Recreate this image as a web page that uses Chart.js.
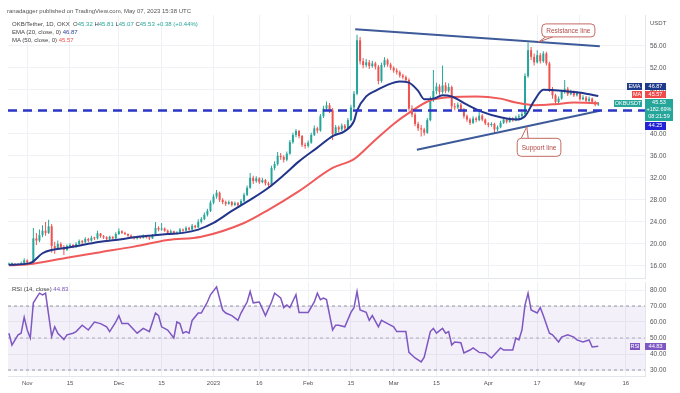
<!DOCTYPE html>
<html>
<head>
<meta charset="utf-8">
<script src="https://cdn.jsdelivr.net/npm/chart.js@4.4.0/dist/chart.umd.min.js"></script>
<style>
  body { margin: 0; background: #fff; }
  #wrap { position: relative; width: 680px; height: 393px; overflow: hidden; font-family: "Liberation Sans", Arial, sans-serif; }
  #main { position: absolute; left: 0; top: 0; }
  #rsi { position: absolute; left: 0; top: 280px; }
  .t { position: absolute; white-space: nowrap; line-height: 1; }
  .tag { position: absolute; color: #fff; font-size: 5.5px; line-height: 1; display: flex; align-items: center; justify-content: center; }
</style>
</head>
<body>
<div id="wrap">
  <canvas id="main" width="680" height="280"></canvas>
  <canvas id="rsi" width="680" height="113"></canvas>

  <div class="t" style="left:7px;top:8px;font-size:6px;color:#555">ranadagger published on TradingView.com, May 07, 2023 15:38 UTC</div>
  <div class="t" style="left:12px;top:21px;font-size:6px;color:#444">OKB/Tether, 1D, OKX&nbsp; O<span style="color:#26a69a">45.32</span> H<span style="color:#26a69a">45.81</span> L<span style="color:#26a69a">45.07</span> C<span style="color:#26a69a">45.53</span> <span style="color:#26a69a">+0.38 (+0.44%)</span></div>
  <div class="t" style="left:12px;top:29px;font-size:6px;color:#444">EMA (20, close, 0) <span style="color:#2a3f9a">46.87</span></div>
  <div class="t" style="left:12px;top:37px;font-size:6px;color:#444">MA (50, close, 0) <span style="color:#f0504f">45.57</span></div>
  <div class="t" style="left:12px;top:286px;font-size:6px;color:#444">RSI (14, close) <span style="color:#7e57c2">44.83</span></div>
  <div class="t" style="left:650px;top:20px;font-size:6px;color:#555">USDT</div>

  <div class="tag" style="left:627px;top:83px;width:15px;height:7px;background:#1f3a8a">EMA</div>
  <div class="tag" style="left:645px;top:83px;width:21px;height:7px;background:#1f3a8a">46.87</div>
  <div class="tag" style="left:632px;top:91px;width:10px;height:7px;background:#f04b4b">MA</div>
  <div class="tag" style="left:645px;top:91px;width:21px;height:7px;background:#f04b4b">45.57</div>
  <div class="tag" style="left:614px;top:100px;width:28px;height:7px;background:#26a69a">OKBUSDT</div>
  <div class="tag" style="left:645px;top:99px;width:28px;height:22px;background:#26a69a;flex-direction:column;gap:1.5px">
    <span>45.53</span><span>+182.69%</span><span>08:21:59</span>
  </div>
  <div class="tag" style="left:645px;top:122px;width:21px;height:8px;background:#2323d6">44.25</div>
  <div class="tag" style="left:630px;top:343px;width:10px;height:7px;background:#7e57c2">RSI</div>
  <div class="tag" style="left:645px;top:343px;width:21px;height:7px;background:#7e57c2">44.83</div>
</div>

<script>
// daily candles from Oct 26 2022 (day 0) to May 7 2023 (day 193)
const firstOpen = 16.2;
const closes = [
  16.3, 16.4, 16.2, 16.3, 16.5, 17.0, 16.6, 16.5, 21.0, 20.6,
  21.6, 22.4, 22.0, 23.2, 19.6, 19.2, 20.0, 19.4, 18.9, 19.6,
  19.8, 19.5, 20.0, 20.5, 20.3, 20.9, 20.6, 21.1, 21.0, 21.9,
  21.4, 21.2, 20.9, 21.3, 21.0, 21.8, 22.3, 22.0, 21.8, 21.5,
  21.2, 21.0, 21.3, 21.1, 21.5, 21.2, 21.0, 21.6, 22.9, 22.6,
  22.8, 22.4, 22.0, 22.3, 21.9, 22.0, 22.6, 22.4, 22.9, 22.6,
  23.3, 23.0, 24.0, 24.5, 25.3, 26.0, 27.5, 28.6, 29.3, 28.0,
  27.6, 27.3, 27.6, 27.1, 27.4, 27.0, 27.8, 28.9, 30.2, 32.0,
  31.4, 31.9, 31.2, 31.6, 31.0, 30.7, 33.8, 34.5, 36.0, 35.8,
  35.3, 36.4, 38.5, 39.8, 40.5, 39.6, 38.0, 37.8, 38.4, 39.8,
  41.0, 40.6, 43.2, 44.6, 45.2, 44.3, 40.0, 41.2, 40.8, 41.5,
  41.0, 42.5, 44.8, 47.3, 57.0, 53.2, 52.5, 53.0, 52.3, 52.8,
  52.2, 49.6, 52.5, 53.4, 52.6, 52.0, 51.5, 51.2, 50.6, 50.3,
  49.8, 44.6, 43.5, 41.8, 41.0, 40.8, 40.2, 42.5, 46.2, 47.8,
  48.6, 47.6, 48.8, 47.8, 48.5, 45.0, 44.8, 45.3, 44.4, 43.2,
  42.6, 42.0, 42.8, 42.5, 43.3, 42.6, 41.9, 41.6, 41.8, 40.8,
  41.2, 42.0, 42.6, 42.2, 42.8, 42.5, 43.0, 43.2, 43.6, 50.5,
  55.2, 54.0, 53.0, 54.3, 53.2, 54.6, 52.8, 48.0, 47.0, 45.8,
  46.4, 47.6, 48.2, 47.2, 47.6, 47.0, 47.4, 46.3, 46.6, 46.0,
  46.4, 45.8, 45.32, 45.53
];
const highs = [
  16.6, 16.6, 16.5, 16.5, 16.8, 17.4, 17.2, 16.8, 22.9, 22.0,
  22.6, 23.4, 24.0, 24.4, 23.6, 20.4, 20.6, 20.3, 19.8, 19.9,
  20.1, 20.0, 20.3, 20.8, 20.7, 21.2, 21.1, 21.5, 21.3, 22.4,
  22.0, 21.6, 21.4, 21.5, 21.4, 22.1, 22.8, 22.5, 22.2, 21.9,
  21.7, 21.4, 21.5, 21.4, 21.7, 21.6, 21.3, 21.8, 24.0, 23.2,
  23.8, 23.0, 22.6, 22.6, 22.4, 22.3, 22.9, 22.8, 23.2, 23.1,
  23.6, 23.5, 24.5, 24.9, 25.7, 26.4, 27.9, 29.0, 29.8, 29.5,
  28.3, 27.9, 27.9, 27.8, 27.7, 27.6, 28.1, 29.3, 30.6, 32.9,
  32.4, 32.3, 32.1, 32.0, 31.8, 31.3, 34.2, 35.0, 36.7, 36.5,
  36.1, 36.8, 38.9, 40.2, 40.9, 40.7, 39.8, 38.4, 38.8, 40.2,
  41.5, 41.3, 43.6, 45.1, 45.9, 45.6, 44.7, 41.6, 41.5, 41.9,
  41.8, 42.9, 45.3, 47.8, 58.0, 57.6, 53.8, 53.6, 53.4, 53.3,
  53.1, 52.5, 52.9, 53.9, 53.7, 52.9, 52.3, 51.9, 51.5, 50.9,
  50.6, 50.1, 45.2, 43.9, 42.2, 41.6, 41.1, 42.9, 46.8, 51.6,
  49.3, 49.0, 52.4, 49.4, 49.2, 48.8, 45.6, 45.7, 45.6, 44.7,
  43.5, 42.9, 43.2, 43.1, 44.5, 43.6, 42.8, 42.1, 42.1, 42.0,
  41.5, 42.4, 43.0, 42.9, 43.1, 43.0, 43.3, 43.6, 44.0, 51.0,
  56.6, 55.8, 54.6, 55.2, 54.7, 55.0, 54.9, 53.1, 48.5, 47.3,
  46.8, 48.0, 49.8, 48.5, 48.0, 47.9, 47.8, 47.6, 47.0, 46.9,
  46.8, 46.6, 46.0, 45.81
];
const lows = [
  16.1, 16.2, 16.1, 16.1, 16.2, 16.4, 16.4, 16.3, 16.4, 19.8,
  20.3, 21.2, 21.5, 21.8, 18.4, 18.2, 18.9, 19.0, 18.0, 18.7,
  19.3, 19.2, 19.3, 19.8, 20.0, 20.1, 20.3, 20.4, 20.7, 20.8,
  21.1, 20.9, 20.6, 20.7, 20.8, 20.9, 21.6, 21.8, 21.6, 21.3,
  21.0, 20.8, 20.8, 20.9, 21.0, 21.0, 20.7, 20.9, 21.5, 22.3,
  22.4, 22.2, 21.8, 21.9, 21.7, 21.7, 21.9, 22.2, 22.3, 22.4,
  22.5, 22.8, 22.9, 23.7, 24.3, 25.0, 25.8, 27.2, 28.2, 27.6,
  27.2, 26.9, 27.1, 26.8, 26.9, 26.7, 26.9, 27.6, 28.7, 30.0,
  30.9, 31.1, 30.9, 31.0, 30.6, 30.2, 30.5, 33.4, 34.2, 35.3,
  34.8, 35.0, 36.2, 38.2, 39.4, 39.2, 37.6, 37.3, 37.5, 38.2,
  39.6, 40.1, 40.4, 42.9, 44.2, 43.8, 38.9, 39.6, 40.3, 40.5,
  40.6, 40.8, 42.3, 44.5, 47.0, 52.6, 51.9, 52.1, 51.8, 52.0,
  51.7, 49.0, 49.3, 52.1, 52.2, 51.6, 51.1, 50.8, 50.2, 49.9,
  49.4, 44.2, 43.0, 41.4, 40.5, 39.5, 39.7, 40.0, 42.3, 45.8,
  47.2, 47.1, 47.3, 47.4, 47.5, 44.5, 44.3, 44.5, 44.0, 42.8,
  42.2, 41.6, 41.8, 42.1, 42.3, 42.3, 41.6, 41.2, 41.3, 40.2,
  40.5, 41.0, 41.8, 41.9, 42.0, 42.2, 42.3, 42.8, 43.0, 43.4,
  50.2, 53.4, 52.4, 52.8, 52.8, 52.9, 52.4, 47.6, 46.4, 45.3,
  45.5, 46.2, 47.3, 46.9, 47.0, 46.7, 46.8, 46.0, 46.1, 45.7,
  45.8, 45.5, 45.0, 45.07
];

// EMA 20 and MA 50 at these days
const emaDays = [0, 7, 11, 14, 19, 24, 30, 35, 41, 46, 52, 57, 62, 67, 73, 79, 85, 90, 95, 101,
  106, 110, 113, 114, 117, 120, 124, 128, 131, 134, 136, 139, 142, 145, 150, 155, 161, 166, 169, 172,
  175, 180, 185, 189, 193];
const emaValues = [16.2, 16.5, 18.3, 18.9, 19.3, 19.8, 20.4, 20.7, 21.2, 21.5, 21.8, 22.0, 22.6, 23.8, 26.0, 28.0, 30.2, 32.5, 35.0, 37.5,
  39.6, 40.5, 42.3, 44.2, 46.8, 47.8, 48.9, 49.5, 49.3, 47.8, 46.3, 46.4, 47.0, 46.8, 45.3, 44.0, 43.0, 42.6, 43.2, 46.0,
  48.0, 47.9, 47.6, 47.3, 46.87];
const maDays = [0, 8, 19, 30, 41, 52, 63, 77, 85, 95, 106, 113, 119, 126, 131, 138, 145, 153, 161, 166, 172, 179, 185, 193];
const maValues = [16.1, 16.4, 17.5, 18.5, 19.5, 20.7, 21.3, 23.8, 26.2, 29.6, 33.8, 35.4, 38.4, 41.8, 43.8, 46.1, 46.7, 46.8, 46.4, 45.7, 45.2, 45.4, 45.7, 45.57];

// RSI (14)
const rsiDays = [0, 1, 3, 4, 5, 6, 7, 8, 10, 11,
  12, 14, 15, 16, 18, 19, 21, 22, 24, 26,
  28, 30, 32, 33, 35, 36, 37, 39, 41, 42,
  44, 46, 48, 49, 50, 52, 54, 55, 56, 57,
  58, 59, 60, 62, 63, 65, 66, 68, 70, 71,
  73, 75, 76, 78, 79, 80, 82, 84, 86, 87,
  89, 90, 91, 92, 94, 95, 98, 100, 101, 102,
  103, 104, 106, 107, 108, 110, 112, 113, 114, 115,
  117, 118, 119, 121, 122, 124, 126, 127, 130, 131,
  133, 135, 136, 138, 139, 140, 142, 143, 144, 145,
  146, 148, 149, 151, 152, 154, 156, 158, 161, 162,
  165, 166, 167, 168, 169, 170, 171, 173, 174, 175,
  177, 178, 180, 181, 183, 185, 186, 188, 190, 191,
  193];
const rsiValues = [53, 45.6, 52, 53, 63, 55, 50, 72, 78, 77,
  78, 51, 57, 53, 49, 52, 53, 54, 58, 55,
  60, 59, 57, 54, 60, 64, 59, 59, 55, 53,
  56, 54, 65.6, 64, 57, 55, 50, 60, 59, 53,
  54, 53, 61, 65.6, 65.6, 72.5, 77, 82, 67.5, 65.6,
  64, 61, 65.6, 72.5, 79, 72, 72.5, 64, 72.5, 78,
  75, 69, 70.6, 69, 77, 66, 66, 72.5, 78, 74,
  75, 74, 55, 58, 58, 57, 66, 69, 79, 67.5,
  66, 61, 64, 57, 61, 59, 57, 54, 54, 41,
  37.5, 35, 38, 54, 56, 53, 56, 53, 54, 45.6,
  47.5, 47, 40.6, 42.5, 43.8, 41, 40.6, 37.5, 43.8, 42.5,
  42.5, 50, 48.8, 55, 70.6, 78, 67.5, 65.6, 69, 64,
  53, 52, 47.5, 50.6, 52, 50.6, 48.8, 47.5, 48.8, 44.4,
  44.83];

// drawn lines
const keyLevel = 44.25;
const resistance = [[113.4, 59.0], [193.5, 55.9]];
const support = [[133.6, 37.1], [193.5, 44.2]];

// axes
const tickDays = [6, 20, 36, 50, 67, 82, 98, 112, 126, 140, 157, 173, 187, 202];
const tickLabels = ['Nov', '15', 'Dec', '15', '2023', '16', 'Feb', '15', 'Mar', '15', 'Apr', '17', 'May', '16'];
const priceTicks = [16, 20, 24, 28, 32, 36, 40, 44, 48, 52, 56];
const rsiTicks = [30, 40, 50, 60, 70, 80];

const xMin = -0.3, xMax = 208.3;
const UP = '#26a69a', DOWN = '#ef5350';
const GRID = '#eff1f5';

Chart.defaults.font.family = '"Liberation Sans", Arial, sans-serif';
Chart.defaults.font.size = 6.5;
Chart.defaults.color = '#555';

const opens = closes.map((c, i) => i === 0 ? firstOpen : closes[i - 1]);
const candleColors = closes.map((c, i) => c >= opens[i] ? UP : DOWN);
const pairs = (xs, ys) => xs.map((x, i) => ({ x: x, y: ys[i] }));

const callouts = [
  { text: 'Resistance line', x: 183.2, y: 58.8, h: 13, tail: 'bottom', tipX: 173.4, tipY: 56.7 },
  { text: 'Support line', x: 173.6, y: 37.55, h: 18, tail: 'top', tipX: 169.6, tipY: 41.3 }
];

const calloutPlugin = {
  id: 'callouts',
  afterDatasetsDraw(chart) {
    const { ctx, scales: { x, y } } = chart;
    ctx.save();
    ctx.font = '6.5px "Liberation Sans", Arial, sans-serif';
    callouts.forEach(c => {
      const cx = x.getPixelForValue(c.x), cy = y.getPixelForValue(c.y);
      const w = ctx.measureText(c.text).width + 9;
      const left = cx - w / 2, top = cy - c.h / 2;
      const edge = c.tail === 'top' ? top : top + c.h;
      const tx = x.getPixelForValue(c.tipX), ty = y.getPixelForValue(c.tipY);
      ctx.strokeStyle = '#c26a63';
      ctx.lineWidth = 1;
      ctx.fillStyle = '#fff';
      ctx.beginPath();
      ctx.moveTo(left + 4, edge);
      ctx.lineTo(tx, ty);
      ctx.lineTo(left + 11, edge);
      ctx.fill();
      ctx.stroke();
      ctx.beginPath();
      ctx.roundRect(left, top, w, c.h, 4);
      ctx.fill();
      ctx.stroke();
      ctx.fillStyle = '#b04a44';
      ctx.textAlign = 'center';
      ctx.textBaseline = 'middle';
      ctx.fillText(c.text, cx, cy + 0.5);
    });
    ctx.restore();
  }
};

new Chart(document.getElementById('main'), {
  type: 'bar',
  data: {
    datasets: [
      { type: 'line', data: pairs(emaDays, emaValues), borderColor: '#22358a', borderWidth: 2, pointRadius: 0, cubicInterpolationMode: 'monotone', order: 1 },
      { type: 'line', data: pairs(maDays, maValues), borderColor: '#f05a5a', borderWidth: 2, pointRadius: 0, cubicInterpolationMode: 'monotone', order: 2 },
      { type: 'line', data: [{ x: xMin, y: keyLevel }, { x: xMax, y: keyLevel }], borderColor: '#2b36c4', borderWidth: 2.5, borderDash: [9, 6], pointRadius: 0, order: 0 },
      { type: 'line', data: resistance.map(p => ({ x: p[0], y: p[1] })), borderColor: '#3d5a99', borderWidth: 2, pointRadius: 0, order: 0 },
      { type: 'line', data: support.map(p => ({ x: p[0], y: p[1] })), borderColor: '#3d5a99', borderWidth: 2, pointRadius: 0, order: 0 },
      { data: closes.map((c, i) => ({ x: i, y: [lows[i], highs[i]] })), backgroundColor: candleColors, grouped: false, maxBarThickness: 1, order: 4 },
      { data: closes.map((c, i) => ({ x: i, y: [opens[i], c] })), backgroundColor: candleColors, grouped: false, maxBarThickness: 2, minBarLength: 1, order: 3 }
    ]
  },
  options: {
    responsive: false,
    animation: false,
    layout: { padding: { left: 8, top: 15, right: 0, bottom: 2 } },
    plugins: { legend: { display: false }, tooltip: { enabled: false } },
    scales: {
      x: {
        type: 'linear', min: xMin, max: xMax, offset: false,
        afterBuildTicks: a => { a.ticks = tickDays.map(v => ({ value: v })); },
        afterFit: a => { a.height = 0; a.paddingLeft = 0; a.paddingRight = 0; },
        ticks: { display: false },
        grid: { color: GRID, drawTicks: false, offset: false },
        border: { color: '#e3e6ec' }
      },
      y: {
        position: 'right', min: 13.8, max: 61.6,
        afterBuildTicks: a => { a.ticks = priceTicks.map(v => ({ value: v })); },
        afterFit: a => { a.width = 35; a.paddingTop = 0; a.paddingBottom = 0; },
        ticks: { callback: v => v.toFixed(2), padding: 5 },
        grid: { color: GRID, drawTicks: false },
        border: { color: '#e3e6ec' }
      }
    }
  },
  plugins: [calloutPlugin]
});

new Chart(document.getElementById('rsi'), {
  type: 'line',
  data: {
    datasets: [
      { data: pairs(rsiDays, rsiValues), borderColor: '#7e57c2', borderWidth: 1.5, pointRadius: 0, tension: 0 },
      { data: [{ x: xMin, y: 70 }, { x: xMax, y: 70 }], borderColor: '#9598a1', borderWidth: 1, borderDash: [3, 3], pointRadius: 0, fill: '+1', backgroundColor: 'rgba(126, 87, 194, 0.09)' },
      { data: [{ x: xMin, y: 30 }, { x: xMax, y: 30 }], borderColor: '#9598a1', borderWidth: 1, borderDash: [3, 3], pointRadius: 0 },
      { data: [{ x: xMin, y: 50 }, { x: xMax, y: 50 }], borderColor: '#b2b5be', borderWidth: 1, borderDash: [3, 3], pointRadius: 0 }
    ]
  },
  options: {
    responsive: false,
    animation: false,
    layout: { padding: { left: 8, top: 2, right: 0, bottom: 0 } },
    plugins: { legend: { display: false }, tooltip: { enabled: false } },
    scales: {
      x: {
        type: 'linear', min: xMin, max: xMax,
        afterBuildTicks: a => { a.ticks = tickDays.map(v => ({ value: v })); },
        afterFit: a => { a.height = 17; a.paddingLeft = 0; a.paddingRight = 0; },
        ticks: { callback: (v, i) => tickLabels[i], padding: 4, maxRotation: 0, autoSkip: false, font: { size: 6 } },
        grid: { color: GRID, drawTicks: false },
        border: { color: '#e3e6ec' }
      },
      y: {
        position: 'right', min: 26.25, max: 85,
        afterBuildTicks: a => { a.ticks = rsiTicks.map(v => ({ value: v })); },
        afterFit: a => { a.width = 35; a.paddingTop = 0; a.paddingBottom = 0; },
        ticks: { callback: v => v.toFixed(2), padding: 5 },
        grid: { color: GRID, drawTicks: false },
        border: { color: '#e3e6ec' }
      }
    }
  }
});
</script>
</body>
</html>
